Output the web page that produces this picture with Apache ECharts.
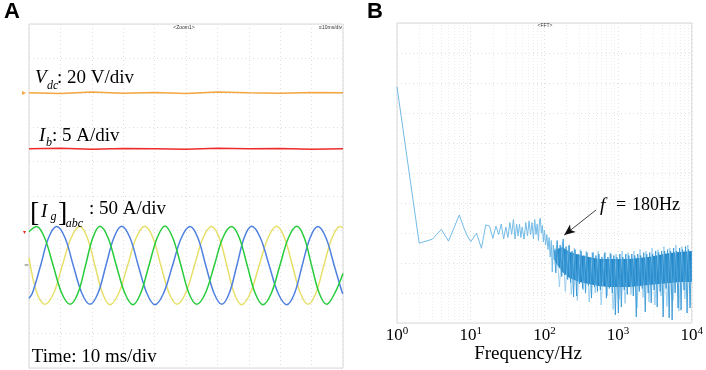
<!DOCTYPE html>
<html><head><meta charset="utf-8">
<script src="https://cdn.jsdelivr.net/npm/echarts@6/dist/echarts.min.js"></script>
<style>html,body{margin:0;padding:0;background:#fff}#c{width:706px;height:370px}</style>
</head><body><div id="c"></div>
<script>
// ---------- Panel A (oscilloscope), time in ms, level in screen divisions (0..10)
const vdcT = [0,10,20,30,40,50,60,70,80,90,100];
const vdcV = [8.0,7.98,8.02,7.99,8.01,7.98,8.02,8.0,7.99,8.01,8.0];
const ibT  = [0,10,20,30,40,50,60,70,80,90,100];
const ibV  = [6.37,6.39,6.36,6.38,6.37,6.36,6.39,6.37,6.38,6.36,6.37];
const greenWave = [[0,3.96],[2.45,4.11],[5.0,3.78],[7.7,2.98],[10.4,2.18],[13.1,1.85],[15.6,2.18],[18.0,2.98],[20.3,3.78],[22.6,4.12],[25.2,3.78],[27.8,2.98],[30.5,2.18],[33.1,1.84],[35.6,2.18],[38.2,2.98],[40.8,3.78],[43.3,4.13],[45.8,3.78],[48.4,2.98],[50.9,2.18],[53.4,1.85],[56.2,2.18],[59.0,2.98],[61.7,3.78],[64.5,4.11],[67.0,3.78],[69.5,2.98],[72.0,2.18],[74.5,1.84],[77.2,2.18],[79.9,2.98],[82.6,3.78],[85.3,4.12],[87.7,3.78],[90.0,2.98],[92.4,2.18],[94.8,1.85],[97.4,2.18],[100,2.75]];
const blueWave = [[0,2.03],[1.1,2.18],[3.7,2.98],[6.2,3.78],[8.8,4.11],[11.5,3.78],[14.1,2.98],[16.8,2.18],[19.4,1.85],[22.0,2.18],[24.5,2.98],[27.0,3.78],[29.5,4.12],[32.2,3.78],[34.8,2.98],[37.5,2.18],[40.1,1.84],[42.9,2.18],[45.7,2.98],[48.5,3.78],[51.3,4.11],[53.8,3.78],[56.3,2.98],[58.9,2.18],[61.4,1.85],[63.8,2.18],[66.2,2.98],[68.5,3.78],[70.9,4.12],[73.7,3.78],[76.5,2.98],[79.3,2.18],[82.1,1.84],[84.6,2.18],[87.0,2.98],[89.5,3.78],[92.0,4.11],[94.6,3.78],[97.2,2.98],[99.8,2.18],[100,2.16]];
const yellowWave = [[0,3.2],[2.5,2.18],[5.1,1.85],[7.9,2.18],[10.6,2.98],[13.4,3.78],[16.2,4.11],[18.6,3.78],[21.0,2.98],[23.4,2.18],[25.8,1.84],[28.6,2.18],[31.4,2.98],[34.1,3.78],[36.9,4.12],[39.5,3.78],[42.0,2.98],[44.6,2.18],[47.1,1.85],[49.9,2.18],[52.7,2.98],[55.4,3.78],[58.2,4.11],[60.6,3.78],[63.0,2.98],[65.3,2.18],[67.7,1.84],[70.5,2.18],[73.3,2.98],[76.1,3.78],[78.9,4.12],[81.4,3.78],[83.9,2.98],[86.4,2.18],[88.9,1.85],[91.4,2.18],[93.9,2.98],[96.5,3.78],[99.0,4.11],[100,4.08]];

// ---------- Panel B (FFT), frequency in Hz, magnitude in screen divisions (0..10)
const fftF = [1,2,3,4,5,6,7,8,9,10,12,14,16,18,20,22,24,26,28,30,32,34,36,38,40,42,44,46,48,50,53,56,59,62,65,68,71,74,77,80,83,86,88,91,94,97,100,104,108,112,116,120,124,128,132,136,140];
const fftV = [7.87,2.66,2.79,3.12,2.73,3.2,3.6,3.2,2.9,2.71,2.99,2.49,3.27,3.23,2.82,3.23,2.95,3.3,2.8,3.2,2.85,3.35,2.95,3.45,2.8,3.3,2.9,3.3,2.85,3.2,2.8,3.35,2.9,3.4,2.95,3.35,2.8,3.45,2.95,3.3,2.75,3.4,3.5,3.0,3.25,2.7,3.1,2.6,2.95,2.45,2.85,2.2,2.75,1.7,2.6,2.1,2.5];
const bandF    = [140,175,220,300,400,550,750,1000,1400,1900,2600,3600,5000,6800,10000];
const bandHigh = [2.43,2.53,2.37,2.27,2.2,2.13,2.13,2.13,2.13,2.17,2.2,2.27,2.33,2.37,2.4];
const bandLow  = [2.03,1.7,1.5,1.37,1.3,1.23,1.2,1.2,1.2,1.23,1.27,1.3,1.33,1.37,1.37];
const noiseF = [136,143,149,156,164,172,180,188,197,207,217,227,238,249,261,274,287,300,315,330,345,362,379,397,416,436,457,478,501,525,550,576,604,633,663,695,728,763,799,837,877,919,963,1009,1057,1108,1161,1216,1274,1335,1399,1466,1536,1609,1686,1767,1851,1940,2032,2130,2231,2338,2450,2567,2689,2818,2953,3094,3241,3396,3559,3729,3907,4093,4289,4494,4709,4934,5169,5417,5675,5947,6231,6516,6841,7167,7510,7869,8245,8639,9052,9484,9938];
const noiseV = [2.45,1.67,2.75,1.9,2.6,1.55,2.8,1.6,2.55,1.45,2.6,1.35,2.4,0.87,2.45,0.9,2.3,1.3,2.4,1.15,2.25,1.0,2.35,1.25,2.2,0.83,2.35,1.2,2.25,1.05,2.3,1.1,2.2,1.25,2.35,0.83,2.2,1.15,2.3,1.0,2.25,0.27,2.2,0.33,2.3,0.53,2.2,1.1,2.3,0.95,2.25,1.2,2.3,0.9,2.25,0.2,2.3,1.05,2.25,1.15,2.35,0.37,2.3,1.0,2.35,0.67,2.3,1.1,2.4,0.53,2.35,1.05,2.4,0.2,2.4,1.15,2.45,0.17,2.4,0.1,2.5,1.0,2.4,0.5,2.5,0.43,2.45,1.1,2.55,0.33,2.45,0.5,2.4];
const noise2F = [146,160,176,192,212,232,255,280,307,337,370,406,446,490,537,590,648,711,780,857,940,1032,1134,1245,1366,1500,1647,1809,1985,2180,2393,2627,2885,3167,3477,3817,4191,4601,5051,5546,6088,6685,7338,8057,8845,9711];
const noise2V = [2.6,1.2,2.7,1.05,2.55,0.95,2.5,0.75,2.45,1.1,2.4,0.7,2.35,1.0,2.4,0.6,2.3,0.9,2.35,0.45,2.3,0.8,2.4,0.65,2.35,0.95,2.4,0.5,2.45,0.85,2.4,0.7,2.5,0.6,2.45,0.9,2.55,0.55,2.5,0.75,2.6,0.4,2.55,0.8,2.6,0.6];
const freqTicks = [1,10,100,1000,10000];
const freqExp = ['0','1','2','3','4'];
const minorF = [2,3,4,5,6,7,8,9,20,30,40,50,60,70,80,90,200,300,400,500,600,700,800,900,2000,3000,4000,5000,6000,7000,8000,9000];
const arrowTip = [186,2.93], arrowTail = [504,3.77];

const serif = '"Liberation Serif","Times New Roman",serif';
const pair = (xs, ys) => xs.map((x,i)=>[x, ys[i]]);
const gridLine = {show:true, lineStyle:{color:'#dedede', type:[1,3], width:1}};
const txt = (x,y,text,font,extra) => ({type:'text', x, y, silent:true, z:100,
  style:Object.assign({text, font, fill:'#000', verticalAlign:'middle'}, extra||{})});

const chart = echarts.init(document.getElementById('c'), null, {renderer:'canvas'});
chart.setOption({
  animation:false,
  backgroundColor:'#fff',
  grid:[
    {left:29, top:24, width:314, height:344, show:true, borderColor:'#d8d8d8', borderWidth:1, backgroundColor:'#fff'},
    {left:397, top:23, width:296, height:300, show:true, borderColor:'#d8d8d8', borderWidth:1, backgroundColor:'#fff'}
  ],
  xAxis:[
    {gridIndex:0, type:'value', min:0, max:100, interval:10, axisLine:{show:false}, axisTick:{show:false}, axisLabel:{show:false}, splitLine:gridLine},
    {gridIndex:1, type:'log', logBase:10, min:1, max:10000, axisLine:{show:false}, axisTick:{show:false}, splitLine:gridLine,
     axisLabel:{margin:3, showMinLabel:true, showMaxLabel:true,
       formatter:(v)=>{const i=freqTicks.indexOf(Math.round(v)); return i<0?'':'{b|10}{s|'+freqExp[i]+'}';},
       rich:{b:{fontSize:17, fontFamily:serif, color:'#000', lineHeight:20},
             s:{fontSize:11, fontFamily:serif, color:'#000', lineHeight:12, verticalAlign:'top'}}}}
  ],
  yAxis:[
    {gridIndex:0, type:'value', min:0, max:10, interval:1, axisLine:{show:false}, axisTick:{show:false}, axisLabel:{show:false}, splitLine:gridLine},
    {gridIndex:1, type:'value', min:0, max:10, interval:1, axisLine:{show:false}, axisTick:{show:false}, axisLabel:{show:false}, splitLine:gridLine}
  ],
  series:[
    {type:'line', xAxisIndex:0, yAxisIndex:0, data:pair(vdcT,vdcV), symbol:'none', lineStyle:{color:'#f4a640', width:1.5}},
    {type:'line', xAxisIndex:0, yAxisIndex:0, data:pair(ibT,ibV), symbol:'none', lineStyle:{color:'#ee2b2b', width:1.5}},
    {type:'line', xAxisIndex:0, yAxisIndex:0, data:yellowWave, symbol:'none', smooth:0.35, lineStyle:{color:'#e6e06a', width:1.5}},
    {type:'line', xAxisIndex:0, yAxisIndex:0, data:blueWave, symbol:'none', smooth:0.35, lineStyle:{color:'#4f80e0', width:1.5}},
    {type:'line', xAxisIndex:0, yAxisIndex:0, data:greenWave, symbol:'none', smooth:0.35, lineStyle:{color:'#27cc3c', width:1.5}},
    {type:'line', xAxisIndex:1, yAxisIndex:1, data:[], symbol:'none', z:1,
     markLine:{silent:true, symbol:'none', z:1, label:{show:false}, lineStyle:{color:'#ececec', type:[1,2], width:1},
       data:minorF.map(f=>({xAxis:f}))}},
    {type:'line', xAxisIndex:1, yAxisIndex:1, data:pair(noise2F,noise2V), symbol:'none', z:2, lineStyle:{color:'#8cc8ec', width:0.8}},
    {type:'custom', xAxisIndex:1, yAxisIndex:1, silent:true, z:2,
     data:bandF.map((f,i)=>[f, bandLow[i], bandHigh[i]]),
     encode:{x:0, y:[1,2]},
     renderItem:(params, api)=>{
       if (params.dataIndex !== 0) return null;
       const pts = [];
       for (let i=0;i<bandF.length;i++) pts.push(api.coord([bandF[i], bandHigh[i]]));
       for (let i=bandF.length-1;i>=0;i--) pts.push(api.coord([bandF[i], bandLow[i]]));
       return {type:'polygon', shape:{points:pts}, style:{fill:'#1580c4', opacity:0.95}};
     }},
    {type:'line', xAxisIndex:1, yAxisIndex:1, data:pair(fftF,fftV), symbol:'none', z:3, lineStyle:{color:'#74bce7', width:1}},
    {type:'line', xAxisIndex:1, yAxisIndex:1, data:pair(noiseF,noiseV), symbol:'none', z:3, lineStyle:{color:'#3a98d6', width:0.9},
     markLine:{silent:true, symbol:['arrow','none'], symbolSize:[7,11], label:{show:false}, lineStyle:{color:'#111', width:0.8, type:'solid'},
       data:[[{coord:arrowTip},{coord:arrowTail}]]}}
  ],
  graphic:[
    txt(4,12,'A','bold 22px "Liberation Sans",Arial,sans-serif'),
    txt(367,12,'B','bold 22px "Liberation Sans",Arial,sans-serif'),
    txt(184,28,'<Zoom1>','5px "Liberation Sans",sans-serif',{fill:'#333', align:'center'}),
    txt(342,28,'\u226110ms/div','5px "Liberation Sans",sans-serif',{fill:'#333', align:'right'}),
    txt(545,26,'<FFT>','5px "Liberation Sans",sans-serif',{fill:'#333', align:'center'}),
    txt(22,93,'\u25B8','8px "DejaVu Sans",sans-serif',{fill:'#f4a640'}),
    txt(23,232,'\u25BE','6px "DejaVu Sans",sans-serif',{fill:'#ee2b2b'}),
    txt(24,265,'\u2248','6px "DejaVu Sans",sans-serif',{fill:'#667766'}),
    txt(35,77.8,'V','italic 19px '+serif),
    txt(47,85.9,'dc','italic 12px '+serif),
    txt(57,77.8,': 20 V/div','19px '+serif),
    txt(39,136.2,'I','italic 19px '+serif),
    txt(46,142.4,'b','italic 12px '+serif),
    txt(52,136.2,': 5 A/div','19px '+serif),
    txt(30,213.5,'[','28px '+serif),
    txt(41,211.5,'I','italic 19px '+serif),
    txt(50.5,217,'g','italic 12px '+serif),
    txt(58,213.5,']','28px '+serif),
    txt(65.7,224,'abc','italic 12px '+serif),
    txt(89,209.5,': 50 A/div','19px '+serif),
    txt(31.7,356.8,'Time: 10 ms/div','19px '+serif),
    txt(600,205.5,'f','italic 19px '+serif),
    txt(616,205.5,'=','18px '+serif),
    txt(632,205.5,'180Hz','18px '+serif),
    txt(528,353.6,'Frequency/Hz','19px '+serif,{align:'center'})
  ]
});
</script></body></html>
